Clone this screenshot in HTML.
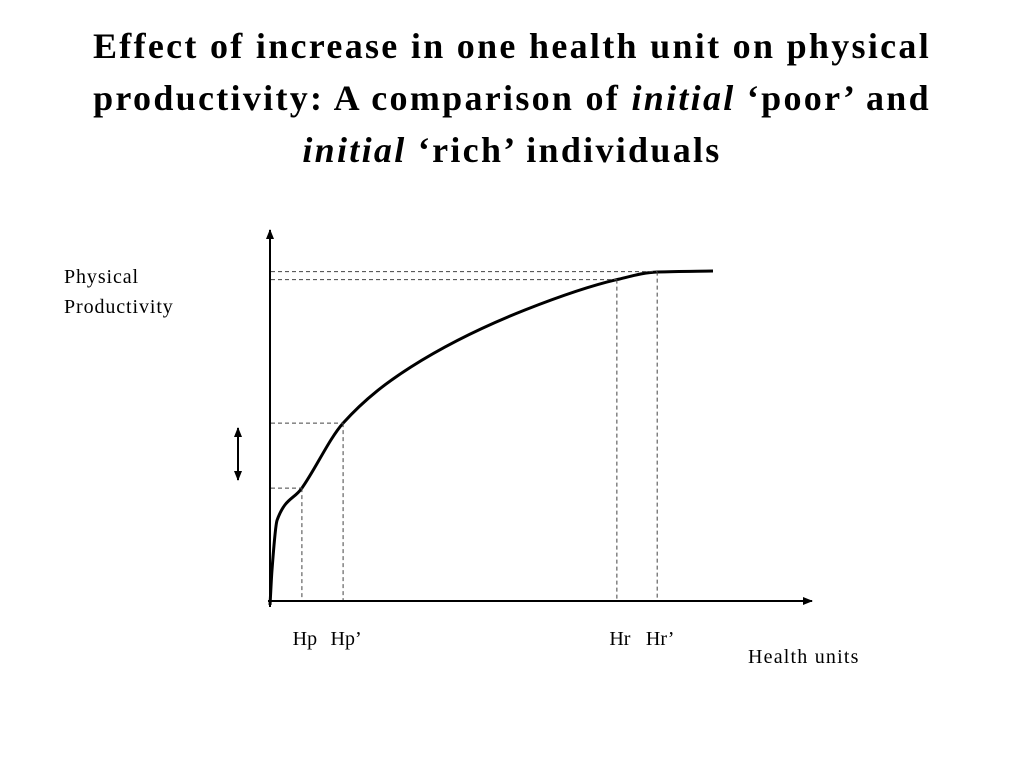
<!DOCTYPE html>
<html><head><meta charset="utf-8"><style>
body{margin:0;background:#fff;width:1024px;height:768px;overflow:hidden;font-family:"Liberation Serif",serif}
.title{position:absolute;left:0;top:20px;width:1024px;text-align:center;font-weight:bold;font-size:36px;letter-spacing:2.3px;line-height:52px;color:#000}
svg{position:absolute;left:0;top:0}
</style></head><body>
<div class="title">Effect of increase in one health unit on physical<br>productivity: A comparison of <i>initial</i> ‘poor’ and<br><i>initial</i> ‘rich’ individuals</div>
<svg id="chart" width="1024" height="768">
<defs><marker id="ah" markerWidth="10" markerHeight="8" refX="9" refY="4" orient="auto" markerUnits="userSpaceOnUse"><path d="M0,0 L10,4 L0,8 z" fill="#000"/></marker>
<marker id="ah2" markerWidth="10" markerHeight="8" refX="9" refY="4" orient="auto-start-reverse" markerUnits="userSpaceOnUse"><path d="M0,0 L10,4 L0,8 z" fill="#000"/></marker></defs>
<line x1="270" y1="607" x2="270" y2="230" stroke="#000" stroke-width="2" marker-end="url(#ah)"/>
<line x1="268" y1="601" x2="812" y2="601" stroke="#000" stroke-width="2" marker-end="url(#ah)"/>
<line x1="238" y1="428" x2="238" y2="480" stroke="#000" stroke-width="2" marker-start="url(#ah2)" marker-end="url(#ah2)"/>
<text x="64" y="283" font-size="20" letter-spacing="0.9"><tspan x="64">Physical</tspan><tspan x="64" dy="30">Productivity</tspan></text>
<text x="748" y="663" font-size="20" letter-spacing="1.2">Health units</text>
<g id="marks"></g>
</svg>
<script>
// data units: x 0..100 health, y 0..100 productivity
const curveX=[0,0.45,1.6,7.2,16.5,31.8,57.6,78.3,87.4,100];
const curveY=[-1.2,9.4,24.5,34.2,53.9,70.9,88.2,97.4,99.7,100];
const markerLabels=["Hp","Hp’","Hr","Hr’"];
const markerX=[7.2,16.5,78.3,87.4];
const markerY=[34.2,53.9,97.4,99.8];
const sx=v=>270+v*4.43, sy=v=>601-v*3.3;
const g=document.getElementById('marks');
const NS='http://www.w3.org/2000/svg';
// monotone cubic (Fritsch-Carlson)
const n=curveX.length, dx=[], m=[], t=[];
for(let i=0;i<n-1;i++){dx[i]=curveX[i+1]-curveX[i];m[i]=(curveY[i+1]-curveY[i])/dx[i];}
t[0]=m[0];t[n-1]=m[n-2];
for(let i=1;i<n-1;i++){t[i]=(m[i-1]*m[i]<=0)?0:3*(dx[i-1]+dx[i])/((2*dx[i]+dx[i-1])/m[i-1]+(dx[i]+2*dx[i-1])/m[i]);}
let d='M'+sx(curveX[0])+','+sy(curveY[0]);
for(let i=0;i<n-1;i++){
 const h=dx[i];
 const c1x=curveX[i]+h/3,c1y=curveY[i]+t[i]*h/3,c2x=curveX[i+1]-h/3,c2y=curveY[i+1]-t[i+1]*h/3;
 d+=` C${sx(c1x).toFixed(1)},${sy(c1y).toFixed(1)} ${sx(c2x).toFixed(1)},${sy(c2y).toFixed(1)} ${sx(curveX[i+1]).toFixed(1)},${sy(curveY[i+1]).toFixed(1)}`;
}
const c=document.createElementNS(NS,'path');
c.setAttribute('d',d);c.setAttribute('fill','none');c.setAttribute('stroke','#000');c.setAttribute('stroke-width','3');


g.appendChild(c);
markerLabels.forEach((lab,i)=>{
 const x=sx(markerX[i]),y=sy(markerY[i]);
 const v=document.createElementNS(NS,'line');
 v.setAttribute('x1',x);v.setAttribute('x2',x);v.setAttribute('y1',y);v.setAttribute('y2',600);
 v.setAttribute('stroke','#444');v.setAttribute('stroke-dasharray','4,3');
 
 
 g.appendChild(v);
 const h=document.createElementNS(NS,'line');
 h.setAttribute('x1',271);h.setAttribute('x2',x);h.setAttribute('y1',y);h.setAttribute('y2',y);
 h.setAttribute('stroke','#444');h.setAttribute('stroke-dasharray','4,3');
 
 
 g.appendChild(h);
 const tx=document.createElementNS(NS,'text');
 tx.setAttribute('x',x+3);tx.setAttribute('y',645);tx.setAttribute('font-size','20');
 tx.setAttribute('text-anchor','middle');
 tx.textContent=lab;
 
 
 g.appendChild(tx);
});
</script>
</body></html>
